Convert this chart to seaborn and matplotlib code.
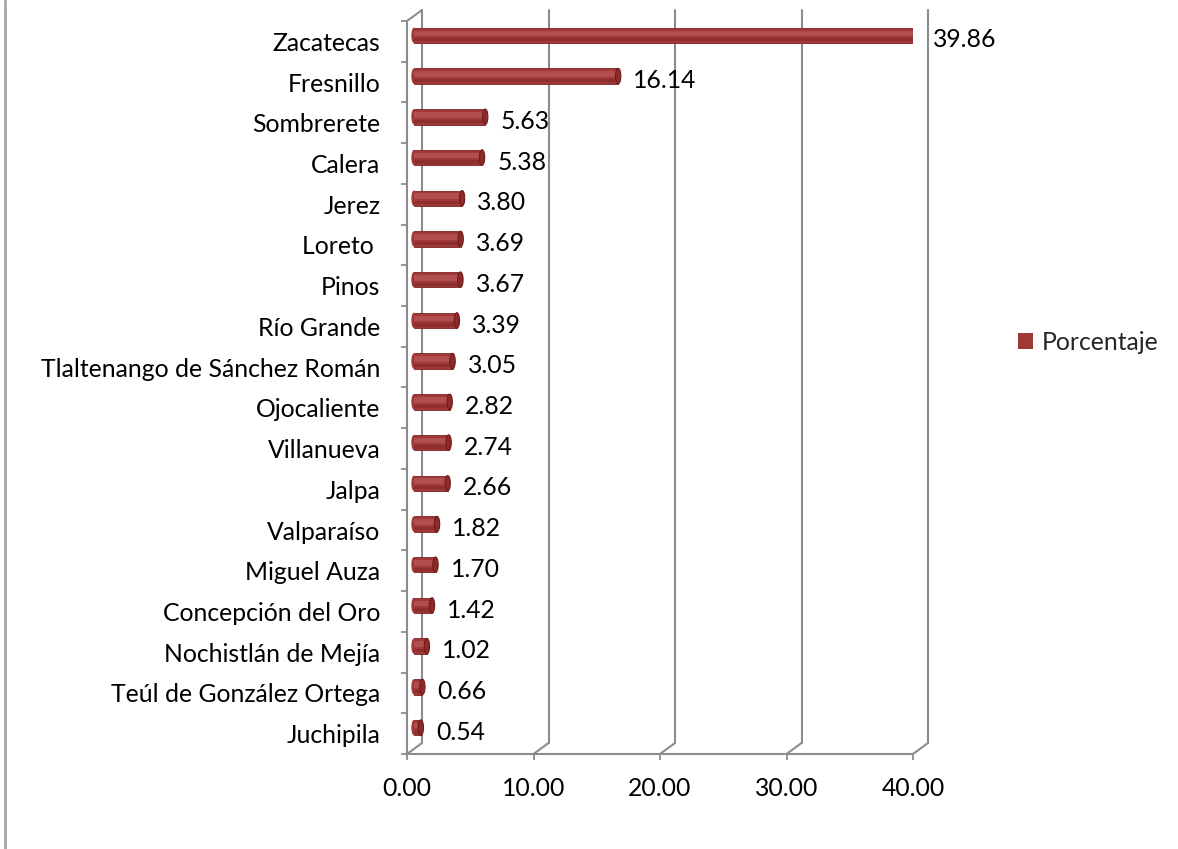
import matplotlib
matplotlib.use("Agg")
import matplotlib.pyplot as plt
import seaborn as sns
import pandas as pd
from matplotlib.transforms import ScaledTranslation, IdentityTransform
from matplotlib.patches import Ellipse, Patch
from matplotlib.lines import Line2D

municipios = ["Zacatecas", "Fresnillo", "Sombrerete", "Calera", "Jerez", "Loreto ",
              "Pinos", "Río Grande", "Tlaltenango de Sánchez Román", "Ojocaliente",
              "Villanueva", "Jalpa", "Valparaíso", "Miguel Auza", "Concepción del Oro",
              "Nochistlán de Mejía", "Teúl de González Ortega", "Juchipila"]
porcentaje = [39.86, 16.14, 5.63, 5.38, 3.80, 3.69, 3.67, 3.39, 3.05, 2.82,
              2.74, 2.66, 1.82, 1.70, 1.42, 1.02, 0.66, 0.54]
xticks = [0, 10, 20, 30, 40]
xtick_labels = ["0.00", "10.00", "20.00", "30.00", "40.00"]
serie = "Porcentaje"

sns.set_theme(style="white")
plt.rcParams["font.family"] = ["Lato", "DejaVu Sans"]
FS = 17.8

W, H = 1178, 849
fig = plt.figure(figsize=(W / 100, H / 100), dpi=100)
fig.patch.set_facecolor("white")
L, R, T, B = 407, 913, 21, 754
ax = fig.add_axes([L / W, 1 - B / H, (R - L) / W, (B - T) / H])
ax.patch.set_visible(False)

df = pd.DataFrame({"Municipio": municipios, serie: porcentaje})
bar_color = "#A03838"
gray = "#8C8C8C"
sns.barplot(data=df, x=serie, y="Municipio", orient="h", color=bar_color,
            width=0.38, saturation=1, edgecolor="#7A2424", linewidth=0.6, ax=ax)
ax.set_xlim(0, 40)
ax.set_ylim(len(municipios) - 0.5, -0.5)

def sh(dxp, dyp):
    return ax.transData + ScaledTranslation(dxp / 100, dyp / 100, fig.dpi_scale_trans)

BX, BY = 7, 6
for p in ax.patches:
    p.set_transform(sh(BX, BY))

# shading strips for the cylinder look
ys = list(range(len(porcentaje)))
ax.barh(ys, porcentaje, height=0.14, left=0, color="#B65656", linewidth=0,
        alpha=0.8, transform=sh(BX, BY + 2), zorder=3)
ax.barh(ys, porcentaje, height=0.08, left=0, color="#7C2424", linewidth=0,
        alpha=0.45, transform=sh(BX, BY - 4.5), zorder=3)
for i, v in enumerate(porcentaje):
    ax.add_patch(Ellipse((v, i), width=0.42, height=0.38, facecolor="#8E2A2A",
                         edgecolor="#6E1C1C", linewidth=0.8,
                         transform=sh(BX, BY), zorder=4))
    ax.add_patch(Ellipse((0, i), width=0.42, height=0.38, facecolor=bar_color,
                         linewidth=0, transform=sh(BX, BY), zorder=2))
    ax.annotate(f"{v:.2f}", (v, i), xytext=(16, 1), textcoords="offset points",
                va="center", ha="left", fontsize=FS, color="#000000")

for s in ["top", "right"]:
    ax.spines[s].set_visible(False)
for s in ["left", "bottom"]:
    ax.spines[s].set_color(gray)
    ax.spines[s].set_linewidth(1.5)

ax.set_xticks(xticks, xtick_labels)
ax.set_xlabel("")
ax.set_ylabel("")
ax.tick_params(axis="x", bottom=True, length=4.5, width=1.3, color=gray, pad=12,
               labelsize=FS, labelcolor="#000000")
ax.tick_params(axis="y", which="major", left=True, length=0, pad=19,
               labelsize=FS, labelcolor="#000000")
ax.set_yticks([i - 0.5 for i in range(len(municipios) + 1)], minor=True)
ax.tick_params(axis="y", which="minor", left=True, length=4, width=1.3, color=gray)

# 3D box lines: back wall gridlines and floor diagonals (behind the axes content)
fig.canvas.draw()
dx, dy = 15, 11
for xv in xticks:
    xb, yb = ax.transData.transform((xv, len(municipios) - 0.5))
    _, yt = ax.transData.transform((xv, -0.5))
    fig.add_artist(Line2D([xb, xb + dx], [yb, yb + dy], color=gray, lw=1.5,
                          transform=IdentityTransform(), zorder=-1))
    fig.add_artist(Line2D([xb + dx, xb + dx], [yb + dy, yt + dy], color=gray, lw=1.5,
                          transform=IdentityTransform(), zorder=-1))
x0, yt0 = ax.transData.transform((0, -0.5))
fig.add_artist(Line2D([x0, x0 + dx], [yt0, yt0 + dy], color=gray, lw=1.5,
                      transform=IdentityTransform(), zorder=-1))

fig.legend(handles=[Patch(facecolor=bar_color, linewidth=0)], labels=[serie],
           loc="center left", bbox_to_anchor=(1018 / W, 1 - 342 / H), frameon=False,
           fontsize=FS, handlelength=0.62, handleheight=0.62, handletextpad=0.35,
           borderpad=0, borderaxespad=0)

fig.add_artist(Line2D([5 / W, 5 / W], [0, 1], color="#A6A6A6", lw=2))

fig.savefig("out.png", dpi=100, facecolor="white")
